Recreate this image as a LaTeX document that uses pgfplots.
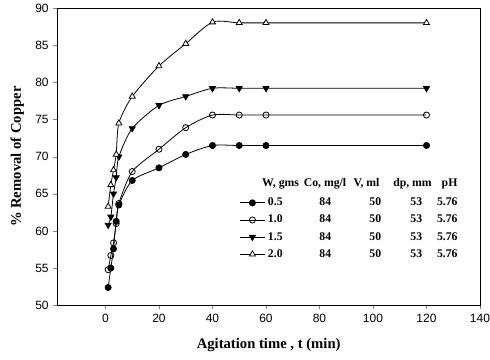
\documentclass[border=0pt]{standalone}
\usepackage{pgfplots}
\pgfplotsset{compat=1.18}
\usepackage{fontspec}
\setmainfont{Liberation Serif}
\setsansfont{Liberation Sans}
\begin{document}
\begin{tikzpicture}
\begin{axis}[
  scale only axis,
  width=317pt, height=223pt,
  xmin=-18, xmax=140, ymin=50, ymax=90,
  xtick={0,20,...,140}, ytick={50,55,...,90},
  tick align=outside,
  xtick pos=bottom, ytick pos=left,
  major tick length=3pt,
  /pgf/number format/assume math mode=true,
  ticklabel style={font=\sffamily\fontsize{9}{10}\selectfont},
  xlabel={\bfseries Agitation time , t (min)},
  ylabel={\bfseries \% Removal of Copper},
  label style={font=\fontsize{11}{13}\selectfont},
  xlabel style={yshift=-5pt},
  ylabel style={yshift=1.5pt},
  every axis plot/.append style={black, line width=0.6pt, smooth, tension=0.45},
  legend style={at={(axis cs:48.5,65.2)}, anchor=north west, draw=none, fill=none,
    font=\bfseries\fontsize{8.8}{10}\selectfont, row sep=1.5pt,
    /tikz/every even column/.append style={column sep=2pt}},
  legend cell align=left,
  legend image code/.code={\draw[mark repeat=2,mark phase=2] plot coordinates {(0cm,0cm)(0.33cm,0cm)(0.66cm,0cm)};},
]
\addplot[mark=*, mark options={fill=black, scale=1.15}] coordinates {
(1,52.4)(2,55.0)(3,57.6)(4,61.3)(5,63.5)(10,66.8)(20,68.5)(30,70.3)(40,71.5)(50,71.5)(60,71.5)(120,71.5)};
\addlegendentry{\makebox[0pt][l]{0.5}\hspace*{43pt}\makebox[0pt]{84}\hspace*{37.5pt}\makebox[0pt]{50}\hspace*{30.7pt}\makebox[0pt]{53}\hspace*{23.3pt}\makebox[0pt]{5.76}}
\addplot[mark=o, mark options={fill=white, scale=1.15}] coordinates {
(1,54.8)(2,56.7)(3,58.4)(4,61.0)(5,63.7)(10,68.0)(20,71.0)(30,73.9)(40,75.6)(50,75.6)(60,75.6)(120,75.6)};
\addlegendentry{\makebox[0pt][l]{1.0}\hspace*{43pt}\makebox[0pt]{84}\hspace*{37.5pt}\makebox[0pt]{50}\hspace*{30.7pt}\makebox[0pt]{53}\hspace*{23.3pt}\makebox[0pt]{5.76}}
\addplot[mark=triangle*, mark options={fill=black, rotate=180, scale=1.3}] coordinates {
(1,60.8)(2,61.9)(3,65.0)(4,67.2)(5,70.0)(10,73.8)(20,76.9)(30,78.1)(40,79.2)(50,79.2)(60,79.2)(120,79.2)};
\addlegendentry{\makebox[0pt][l]{1.5}\hspace*{43pt}\makebox[0pt]{84}\hspace*{37.5pt}\makebox[0pt]{50}\hspace*{30.7pt}\makebox[0pt]{53}\hspace*{23.3pt}\makebox[0pt]{5.76}}
\addplot[mark=triangle*, mark options={fill=white, scale=1.3}] coordinates {
(1,63.3)(2,66.2)(3,68.2)(4,70.3)(5,74.5)(10,78.1)(20,82.2)(30,85.2)(40,88.1)(50,88.0)(60,88.0)(120,88.0)};
\addlegendentry{\makebox[0pt][l]{2.0}\hspace*{43pt}\makebox[0pt]{84}\hspace*{37.5pt}\makebox[0pt]{50}\hspace*{30.7pt}\makebox[0pt]{53}\hspace*{23.3pt}\makebox[0pt]{5.76}}
\node[anchor=base west, inner sep=0pt, font=\bfseries\fontsize{8.8}{10}\selectfont] at (axis cs:58.5,66.0)
  {\makebox[0pt][l]{W, gms}\hspace*{47.1pt}\makebox[0pt]{Co, mg/l}\hspace*{31.1pt}\makebox[0pt]{V, ml}\hspace*{34.5pt}\makebox[0pt]{dp, mm}\hspace*{27.8pt}\makebox[0pt]{pH}};
\end{axis}
\pgfresetboundingbox
\useasboundingbox ([shift={(-43pt,-41pt)}]current axis.south west) rectangle ([shift={(7.5pt,6pt)}]current axis.north east);
\end{tikzpicture}
\end{document}
